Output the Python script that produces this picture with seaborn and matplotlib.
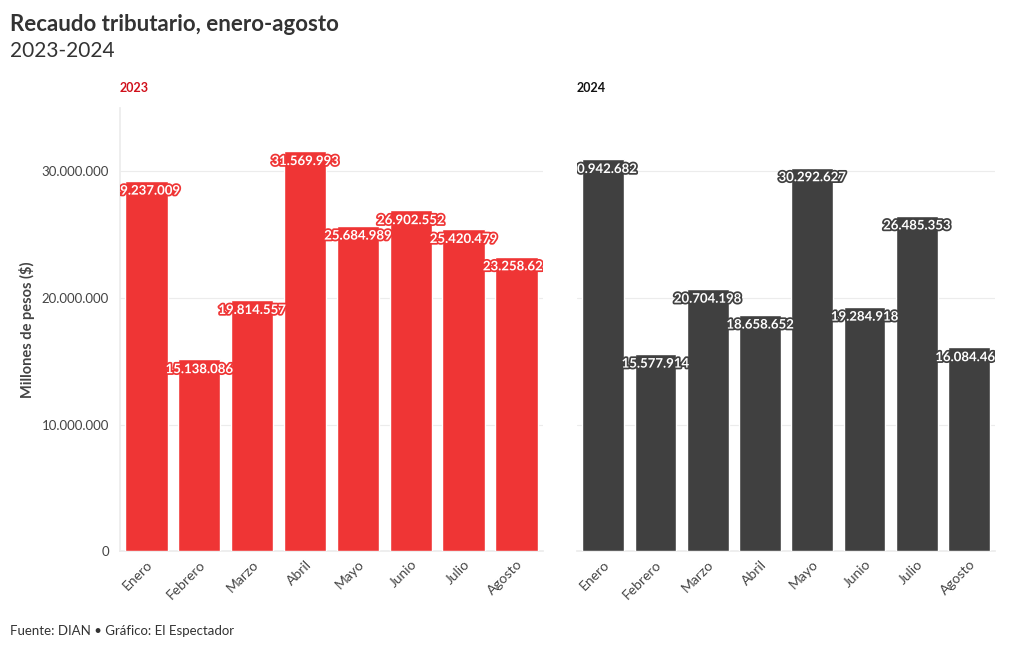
import matplotlib
matplotlib.use("Agg")
import matplotlib.pyplot as plt
import matplotlib.patheffects as pe
from matplotlib.ticker import FuncFormatter
import seaborn as sns
import pandas as pd

meses = ["Enero", "Febrero", "Marzo", "Abril", "Mayo", "Junio", "Julio", "Agosto"]
recaudo_2023 = [29237009, 15138086, 19814557, 31569993, 25684989, 26902552, 25420479, 23258621]
recaudo_2024 = [30942682, 15577914, 20704198, 18658652, 30292627, 19284918, 26485353, 16084461]
yticks = [0, 10000000, 20000000, 30000000]

ROJO = "#EF3535"
GRIS = "#404040"

sns.set_theme(style="white")
plt.rcParams["font.family"] = ["Lato", "DejaVu Sans"]


def miles(v, pos=None):
    return f"{int(round(v)):,}".replace(",", ".")


fig = plt.figure(figsize=(10.2, 6.5), dpi=100)
ax1 = fig.add_axes([0.1176, 0.152, 0.4147, 0.682])
ax2 = fig.add_axes([0.5657, 0.152, 0.41, 0.682], sharey=ax1)

paneles = [(ax1, "2023", recaudo_2023, ROJO, "#D0101B"),
           (ax2, "2024", recaudo_2024, GRIS, "#111111")]
for ax, anio, valores, color, color_titulo in paneles:
    df = pd.DataFrame({"mes": meses, "valor": valores})
    sns.barplot(data=df, x="mes", y="valor", color=color, saturation=1,
                width=0.8, ax=ax, zorder=3)
    for i, v in enumerate(valores):
        ax.annotate(miles(v), (i, v), xytext=(0, -7), textcoords="offset points",
                    ha="center", va="center", fontsize=9.5, fontweight="bold",
                    color="white", clip_on=True, zorder=5,
                    path_effects=[pe.withStroke(linewidth=2.5, foreground=color)])
    ax.set_ylim(0, 35000000)
    ax.set_xlim(-0.5, 7.5)
    ax.set_yticks(yticks)
    ax.yaxis.set_major_formatter(FuncFormatter(miles))
    ax.grid(axis="y", color="#ececec", linewidth=0.8, zorder=0)
    ax.set_xlabel("")
    ax.set_ylabel("")
    for s in ["top", "right", "left"]:
        ax.spines[s].set_visible(False)
    ax.spines["bottom"].set_color("#ececec")
    ax.tick_params(axis="x", labelsize=10, labelcolor="#444444", rotation=45,
                   length=3, color="#e6e6e6", pad=2)
    for lab in ax.get_xticklabels():
        lab.set_ha("right")
        lab.set_rotation_mode("anchor")
    ax.tick_params(axis="y", labelsize=9.5, labelcolor="#444444", length=0, pad=8)
    ax.text(0, 1.045, anio, transform=ax.transAxes, fontsize=9, fontweight="bold",
            color=color_titulo, ha="left", va="center")

ax1.spines["left"].set_visible(True)
ax1.spines["left"].set_color("#ececec")
ax2.tick_params(axis="y", labelleft=False)
ax1.set_ylabel("Millones de pesos ($)", fontsize=10.5, fontweight="bold",
               color="#444444", labelpad=5)

fig.text(0.0098, 0.963, "Recaudo tributario, enero-agosto", fontsize=16,
         fontweight="bold", color="#333333", ha="left", va="center")
fig.text(0.0098, 0.922, "2023-2024", fontsize=15, color="#333333",
         ha="left", va="center")
fig.text(0.0098, 0.029, "Fuente: DIAN • Gráfico: El Espectador", fontsize=9.5,
         color="#333333", ha="left", va="center")

fig.savefig("out.png", dpi=100)
